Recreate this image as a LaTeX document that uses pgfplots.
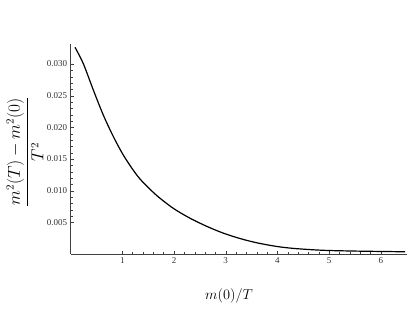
\documentclass[border=0pt]{standalone}
\usepackage[no-math]{fontspec}
\setmainfont{Liberation Serif}
\usepackage{pgfplots}
\pgfplotsset{compat=1.18}

\begin{document}
\begin{tikzpicture}
\begin{axis}[
    scale only axis,
    width=336.6pt, height=210.3pt,
    axis lines*=left,
    xmin=0, xmax=6.51,
    ymin=0, ymax=0.0332,
    xtick={1,2,3,4,5,6},
    ytick={0.005,0.010,0.015,0.020,0.025,0.030},
    minor x tick num=4,
    minor y tick num=4,
    tick align=inside,
    major tick length=3.3pt,
    minor tick length=2pt,
    axis line style={black!75, line width=0.5pt},
    tick style={black!75, line width=0.4pt},
    scaled y ticks=false,
    yticklabel style={/pgf/number format/fixed, /pgf/number format/precision=3,
                      /pgf/number format/fixed zerofill},
    /pgf/number format/assume math mode=true,
    ticklabel style={font=\fontsize{9}{10}\selectfont, text=black!80},
    clip=false,
]
\addplot[black, line width=1.2pt, smooth] coordinates {
  (0.085,0.03264) (0.246,0.03005) (0.439,0.02590) (0.632,0.02195)
  (0.826,0.01855) (1.019,0.01563) (1.213,0.01323) (1.375,0.01155)
  (1.665,0.00925) (1.986,0.00722) (2.309,0.00566) (2.632,0.00438)
  (2.954,0.00330) (3.277,0.00245) (3.600,0.00178) (3.986,0.00120)
  (4.3,0.00090) (4.7,0.00067) (5.0,0.00056) (5.5,0.00047)
  (6.0,0.00041) (6.47,0.00036)
};
\node[rotate=90, font=\fontsize{16}{19}\selectfont] at (axis cs:-0.882,0.0161)
  {$\displaystyle\frac{m^2(T)-m^2(0)}{T^2}$};
\node[font=\fontsize{14.5}{17}\selectfont] at (axis cs:3.064,-0.00663) {$m(0)/T$};
\coordinate (bl) at (axis cs:-1.366,-0.00916);
\coordinate (tr) at (axis cs:6.661,0.04011);
\end{axis}
\useasboundingbox (bl) rectangle (tr);
\end{tikzpicture}
\end{document}
